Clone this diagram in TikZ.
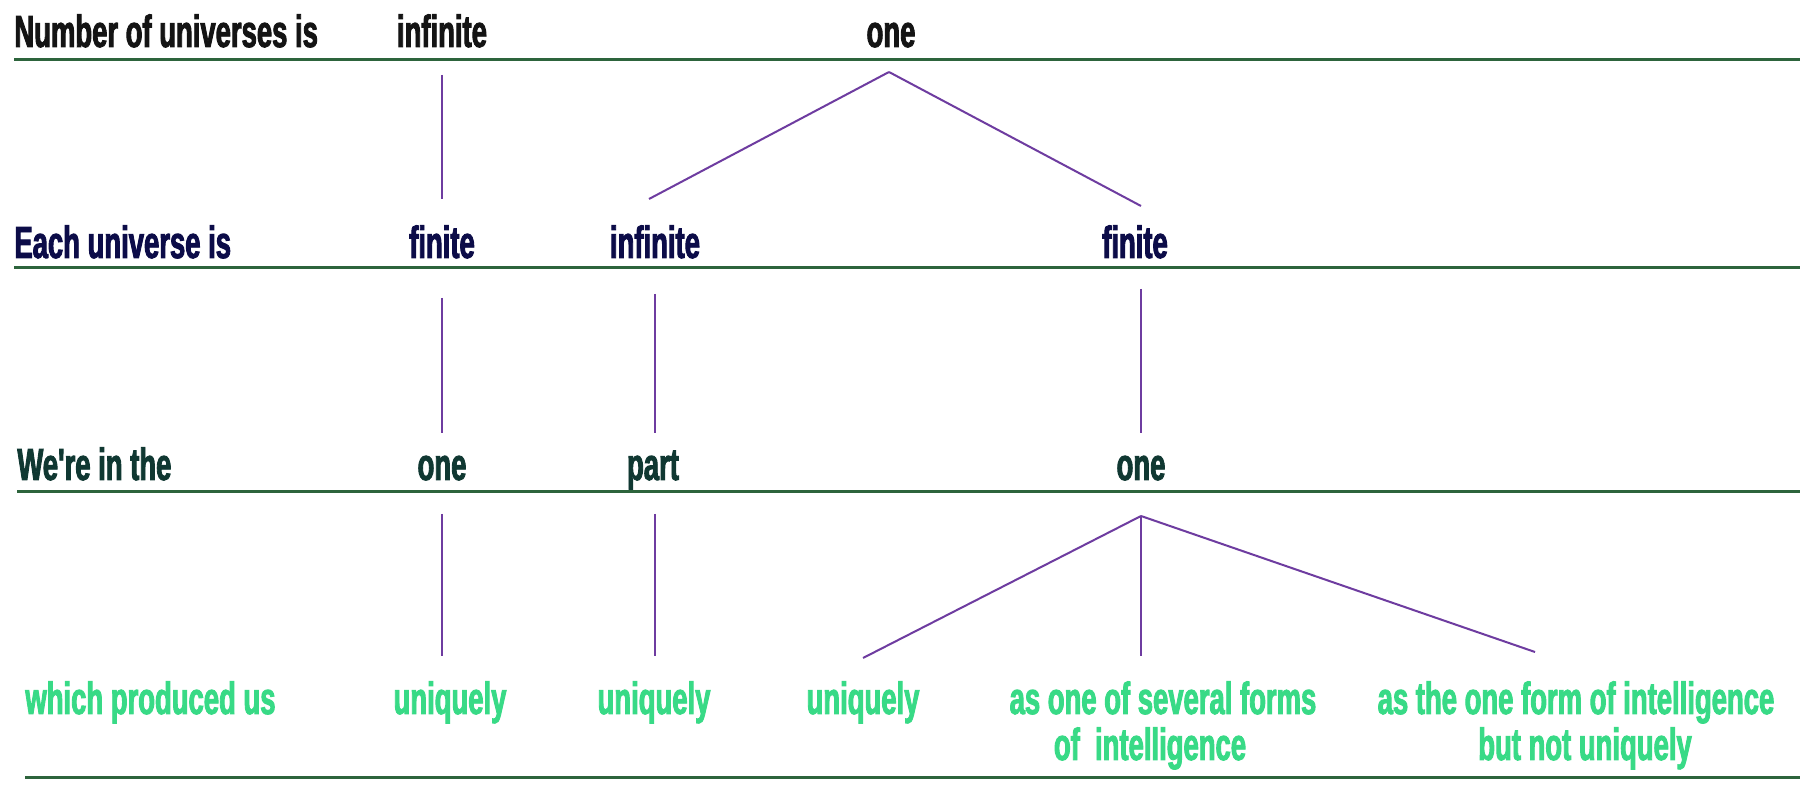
\documentclass[tikz,border=0pt]{standalone}
\usepackage{fontspec}
\setmainfont{Liberation Sans}[FakeStretch=0.61,FakeBold=2,Ligatures=TeXOff]
\usetikzlibrary{calc}
\definecolor{rowa}{RGB}{20,20,20}
\definecolor{rowb}{RGB}{12,12,72}
\definecolor{rowc}{RGB}{16,56,50}
\definecolor{rowd}{RGB}{56,218,134}
\definecolor{rulecol}{RGB}{45,100,60}
\definecolor{conncol}{RGB}{110,60,160}
\begin{document}
\begin{tikzpicture}[x=0.5pt,y=-0.5pt,
  lbl/.style={inner sep=0pt,font=\fontsize{22.5}{27}\selectfont\bfseries},
  la/.style={lbl,text=rowa},
  lb/.style={lbl,text=rowb},
  lc/.style={lbl,text=rowc},
  ld/.style={lbl,text=rowd},
  rule/.style={draw=rulecol,line width=1.5pt},
  conn/.style={draw=conncol,line width=1pt}]
\useasboundingbox[fill=white] (0,0) rectangle (1811,785);
% row 1
\node[la,anchor=base west] (h1) at (14,47) {Number of universes is};
\node[la,anchor=base] (inf1) at (442,47) {infinite};
\node[la,anchor=base] (one0) at (891,47) {one};
% row 2
\node[lb,anchor=base west] (h2) at (14,258) {Each universe is};
\node[lb,anchor=base] (fin1) at (442,258) {finite};
\node[lb,anchor=base] (inf2) at (655,258) {infinite};
\node[lb,anchor=base] (fin2) at (1135,258) {finite};
% row 3
\node[lc,anchor=base west] (h3) at (17,480) {We're in the};
\node[lc,anchor=base] (one1) at (442,480) {one};
\node[lc,anchor=base] (part) at (653,480) {part};
\node[lc,anchor=base] (one2) at (1141,480) {one};
% row 4
\node[ld,anchor=base west] (h4) at (25,714) {which produced us};
\node[ld,anchor=base] (uq1) at (450,714) {uniquely};
\node[ld,anchor=base] (uq2) at (654,714) {uniquely};
\node[ld,anchor=base] (uq3) at (863,714) {uniquely};
\node[ld,anchor=base] (sev) at (1163,714) {as one of several forms};
\node[ld,anchor=base] (sevb) at (1150,760) {of\ \ intelligence};
\node[ld,anchor=base] (thone) at (1576,714) {as the one form of intelligence};
\node[ld,anchor=base] (thoneb) at (1585,760) {but not uniquely};
% rules
\draw[rule] (h1.base west |- 0,60) -- (1800,60);
\draw[rule] (h2.base west |- 0,268) -- (1800,268);
\draw[rule] (h3.base west |- 0,492) -- (1800,492);
\draw[rule] (h4.base west |- 0,778) -- (1800,778);
% connectors row1 -> row2
\draw[conn] ($(inf1.base)+(0,28)$) -- ($(fin1.base)+(0,-59)$);
\draw[conn] ($(one0.base)+(-2,25)$) -- ($(inf2.base)+(-6,-59)$);
\draw[conn] ($(one0.base)+(-2,25)$) -- ($(fin2.base)+(6,-52)$);
% row2 -> row3
\draw[conn] ($(fin1.base)+(0,40)$) -- ($(one1.base)+(0,-47)$);
\draw[conn] ($(inf2.base)+(0,36)$) -- ($(inf2.base |- part.base)+(0,-47)$);
\draw[conn] ($(one2.base |- fin2.base)+(0,31)$) -- ($(one2.base)+(0,-47)$);
% row3 -> row4
\draw[conn] ($(one1.base)+(0,34)$) -- ($(one1.base |- uq1.base)+(0,-58)$);
\draw[conn] ($(inf2.base |- part.base)+(0,34)$) -- ($(inf2.base |- uq2.base)+(0,-58)$);
\draw[conn] ($(one2.base)+(0,36)$) -- ($(uq3.base)+(0,-56)$);
\draw[conn] ($(one2.base)+(0,36)$) -- ($(one2.base |- sev.base)+(0,-58)$);
\draw[conn] ($(one2.base)+(0,36)$) -- ($(thone.base)+(-41,-62)$);
\end{tikzpicture}
\end{document}
